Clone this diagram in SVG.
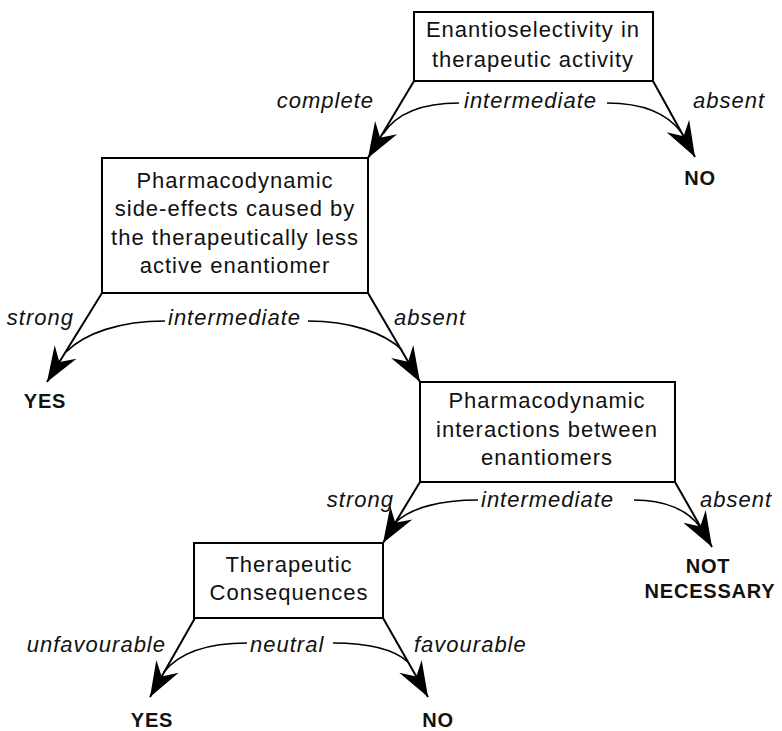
<svg xmlns="http://www.w3.org/2000/svg" width="782" height="731" viewBox="0 0 782 731">
<style>
.box{fill:#fff;stroke:#000;stroke-width:2}
.bt{font-family:"Liberation Sans",Arial,sans-serif;font-size:22px;letter-spacing:1px;text-anchor:middle;fill:#111}
.lb{font-family:"Liberation Sans",Arial,sans-serif;font-size:22px;letter-spacing:1px;font-style:italic;fill:#111}
.end{text-anchor:end}
.res{font-family:"Liberation Sans",Arial,sans-serif;font-size:20px;letter-spacing:0.8px;font-weight:bold;text-anchor:middle;fill:#111}
.ln{fill:none;stroke:#000;stroke-width:2}
.cv{fill:none;stroke:#000;stroke-width:1.6}
</style>
<defs>
<marker id="ah" markerUnits="userSpaceOnUse" markerWidth="40" markerHeight="30" viewBox="-34 -14 36 28" refX="0" refY="0" orient="auto">
<path d="M0,0 L-33,-12 L-22,0 L-33,12 Z" fill="#000"/>
</marker>
</defs>
<rect width="782" height="731" fill="#fff"/>

<g id="connectors">
<line class="ln" x1="414" y1="81" x2="368" y2="158" marker-end="url(#ah)"/>
<line class="ln" x1="653" y1="81" x2="695" y2="157" marker-end="url(#ah)"/>
<path class="cv" d="M459,103 C420,103 396,114 383,134"/>
<path class="cv" d="M607,103 C645,103 668,114 682,133"/>

<line class="ln" x1="102" y1="293" x2="47" y2="382" marker-end="url(#ah)"/>
<line class="ln" x1="368" y1="293" x2="420" y2="382" marker-end="url(#ah)"/>
<path class="cv" d="M165,321 C120,321 85,333 66,352"/>
<path class="cv" d="M308,321 C350,321 385,333 402,350"/>

<line class="ln" x1="420" y1="482" x2="383" y2="543" marker-end="url(#ah)"/>
<line class="ln" x1="675" y1="482" x2="712" y2="547" marker-end="url(#ah)"/>
<path class="cv" d="M478,500 C440,500 410,508 395,523"/>
<path class="cv" d="M634,500 C665,500 688,510 700,527"/>

<line class="ln" x1="195" y1="618" x2="150" y2="697" marker-end="url(#ah)"/>
<line class="ln" x1="383" y1="618" x2="428" y2="697" marker-end="url(#ah)"/>
<path class="cv" d="M247,643 C210,643 180,652 164,672"/>
<path class="cv" d="M333,643 C370,643 395,650 408,662"/>
</g>

<g id="node-enantioselectivity">
<rect class="box" x="414" y="12" width="239" height="69"/>
<text class="bt" x="533" y="37">Enantioselectivity in</text>
<text class="bt" x="533" y="67">therapeutic activity</text>
</g>

<g id="node-sideeffects">
<rect class="box" x="102" y="158" width="266" height="135"/>
<text class="bt" x="235" y="188">Pharmacodynamic</text>
<text class="bt" x="235" y="216">side-effects caused by</text>
<text class="bt" x="235" y="245">the therapeutically less</text>
<text class="bt" x="235" y="273">active enantiomer</text>
</g>

<g id="node-interactions">
<rect class="box" x="420" y="382" width="255" height="100"/>
<text class="bt" x="547" y="408">Pharmacodynamic</text>
<text class="bt" x="547" y="437">interactions between</text>
<text class="bt" x="547" y="465">enantiomers</text>
</g>

<g id="node-consequences">
<rect class="box" x="194" y="543" width="189" height="75"/>
<text class="bt" x="289" y="572">Therapeutic</text>
<text class="bt" x="289" y="600">Consequences</text>
</g>

<g id="labels">
<text class="lb end" x="374" y="108">complete</text>
<text class="lb" x="464" y="108">intermediate</text>
<text class="lb" x="693" y="108">absent</text>

<text class="lb end" x="74" y="325">strong</text>
<text class="lb" x="168" y="325">intermediate</text>
<text class="lb" x="394" y="325">absent</text>

<text class="lb end" x="394" y="507">strong</text>
<text class="lb" x="481" y="507">intermediate</text>
<text class="lb" x="700" y="507">absent</text>

<text class="lb end" x="166" y="652">unfavourable</text>
<text class="lb" x="250" y="652">neutral</text>
<text class="lb" x="414" y="652">favourable</text>
</g>

<g id="result-no-1"><text class="res" x="700" y="185">NO</text></g>
<g id="result-yes-1"><text class="res" x="45" y="408">YES</text></g>
<g id="result-not-necessary"><text class="res" x="708" y="573">NOT</text><text class="res" x="710" y="598">NECESSARY</text></g>
<g id="result-yes-2"><text class="res" x="152" y="727">YES</text></g>
<g id="result-no-2"><text class="res" x="438" y="727">NO</text></g>
</svg>
